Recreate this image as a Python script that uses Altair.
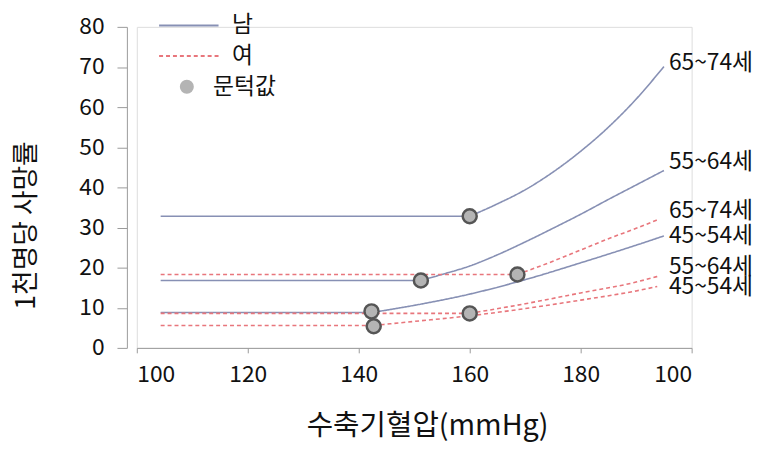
import altair as alt
import pandas as pd

FONT = "Noto Sans CJK KR"

# axis ticks
x_ticks = [100, 120, 140, 160, 180, 200]
x_tick_labels = ["100", "120", "140", "160", "180", "100"]
y_ticks = [0, 10, 20, 30, 40, 50, 60, 70, 80]

# series (sex, age group); first two points = flat part up to the threshold
series_names = ["남 65~74세", "남 55~64세", "남 45~54세", "여 65~74세", "여 55~64세", "여 45~54세"]
series_sex = ["남", "남", "남", "여", "여", "여"]

m65_x = [104.3, 160, 165, 170, 175, 180, 185, 190, 195]
m65_y = [32.8, 32.8, 35.9, 39.4, 43.8, 49.0, 55.0, 62.0, 70.1]
m55_x = [104.3, 151.2, 155, 160, 165, 170, 175, 180, 185, 190, 195]
m55_y = [16.8, 16.8, 18.3, 20.4, 23.2, 26.4, 29.8, 33.3, 37.0, 40.6, 44.2]
m45_x = [104.3, 142.3, 150, 160, 170, 180, 190, 195]
m45_y = [8.8, 8.8, 10.6, 13.4, 17.0, 21.2, 25.6, 27.9]
f65_x = [104.3, 168.6, 175, 180, 185, 190, 193.8]
f65_y = [18.3, 18.3, 21.6, 24.4, 27.2, 29.8, 31.9]
f55_x = [104.3, 160, 170, 180, 190, 193.8]
f55_y = [8.6, 8.6, 11.0, 13.7, 16.4, 17.8]
f45_x = [104.3, 142.7, 150, 160, 170, 180, 190, 193.8]
f45_y = [5.6, 5.6, 6.6, 8.0, 9.8, 11.9, 14.2, 15.3]

series_x = [m65_x, m55_x, m45_x, f65_x, f55_x, f45_x]
series_y = [m65_y, m55_y, m45_y, f65_y, f55_y, f45_y]

# threshold points (문턱값)
thr_x = [160, 151.2, 142.3, 168.6, 160, 142.7]
thr_y = [32.8, 16.8, 9.1, 18.3, 8.6, 5.4]

# end labels
label_texts = ["65~74세", "55~64세", "65~74세", "45~54세", "55~64세", "45~54세"]
label_x = [195.9] * 6
label_y = [71.0, 46.4, 34.1, 27.9, 20.1, 15.1]

rows = []
for name, sex, xs, ys in zip(series_names, series_sex, series_x, series_y):
    for i, (xv, yv) in enumerate(zip(xs, ys)):
        if i <= 1:
            rows.append({"x": xv, "y": yv, "seg": name + " flat", "sex": sex, "order": i})
        if i >= 1:
            rows.append({"x": xv, "y": yv, "seg": name + " curve", "sex": sex, "order": i})
lines_df = pd.DataFrame(rows)

thr_df = pd.DataFrame({"x": thr_x, "y": thr_y, "kind": ["문턱값"] * len(thr_x)})
lab_df = pd.DataFrame({"x": label_x, "y": label_y, "label": label_texts})

label_expr = " : ".join(
    [f"datum.value == {v} ? '{t}'" for v, t in zip(x_ticks, x_tick_labels)]
) + " : datum.label"

x_scale = alt.Scale(domain=[100, 200], nice=False, zero=False)
y_scale = alt.Scale(domain=[0, 80], nice=False)

x_axis = alt.Axis(
    values=x_ticks, labelExpr=label_expr, title="수축기혈압(mmHg)", grid=False,
    domainColor="#9a9a9a", tickColor="#9a9a9a", tickSize=5, labelFontSize=23,
    labelColor="#111111", labelPadding=11, labelFont=FONT, titleFont=FONT,
    titleFontSize=29, titleFontWeight="normal", titleColor="#111111",
    titlePadding=25, titleX=293,
)
y_axis = alt.Axis(
    values=y_ticks, title="1천명당 사망률", grid=False, offset=10,
    domainColor="#9a9a9a", tickColor="#9a9a9a", tickSize=10, labelFontSize=23,
    labelColor="#111111", labelPadding=13, labelFont=FONT, titleFont=FONT,
    titleFontSize=27, titleFontWeight="normal", titleColor="#111111",
    titlePadding=39, titleY=200,
)

line_legend = alt.Legend(
    orient="none", legendX=41, legendY=-13, title=None, symbolType="M-6,0H6",
    symbolSize=100, symbolStrokeWidth=2, labelFontSize=23, labelFont=FONT,
    labelColor="#111111", labelOffset=32, rowPadding=7, padding=0,
)

lines = alt.Chart(lines_df).mark_line(strokeWidth=1.6, interpolate="monotone").encode(
    x=alt.X("x:Q", scale=x_scale, axis=x_axis),
    y=alt.Y("y:Q", scale=y_scale, axis=y_axis),
    color=alt.Color(
        "sex:N",
        scale=alt.Scale(domain=["남", "여"], range=["#8790b4", "#e8767c"]),
        legend=line_legend,
    ),
    strokeDash=alt.StrokeDash(
        "sex:N",
        scale=alt.Scale(domain=["남", "여"], range=[[1, 0], [4, 3]]),
        legend=line_legend,
    ),
    detail="seg:N",
    order="order:Q",
)

points = alt.Chart(thr_df).mark_point(
    filled=True, fill="#b4b4b4", stroke="#555555", strokeWidth=2.5, size=200, opacity=1
).encode(
    x="x:Q",
    y="y:Q",
    shape=alt.Shape(
        "kind:N",
        scale=alt.Scale(domain=["문턱값"], range=["circle"]),
        legend=alt.Legend(
            orient="none", legendX=39, legendY=49, title=None, labelFontSize=23,
            labelFont=FONT, labelColor="#111111", labelOffset=15, padding=0,
            symbolSize=200, symbolFillColor="#b4b4b4", symbolStrokeColor="#555555",
            symbolStrokeWidth=2.5,
        ),
    ),
)

labels = alt.Chart(lab_df).mark_text(
    align="left", baseline="middle", fontSize=23, font=FONT, color="#111111"
).encode(x="x:Q", y="y:Q", text="label:N")

chart = alt.layer(lines, points, labels).properties(
    width=560,
    height=324,
    autosize=alt.AutoSizeParams(type="none"),
    padding={"left": 130, "top": 17, "right": 70, "bottom": 100},
).configure_view(stroke=None).configure(font=FONT)

chart.save("out.html", embed_options={"renderer": "svg", "actions": False})
